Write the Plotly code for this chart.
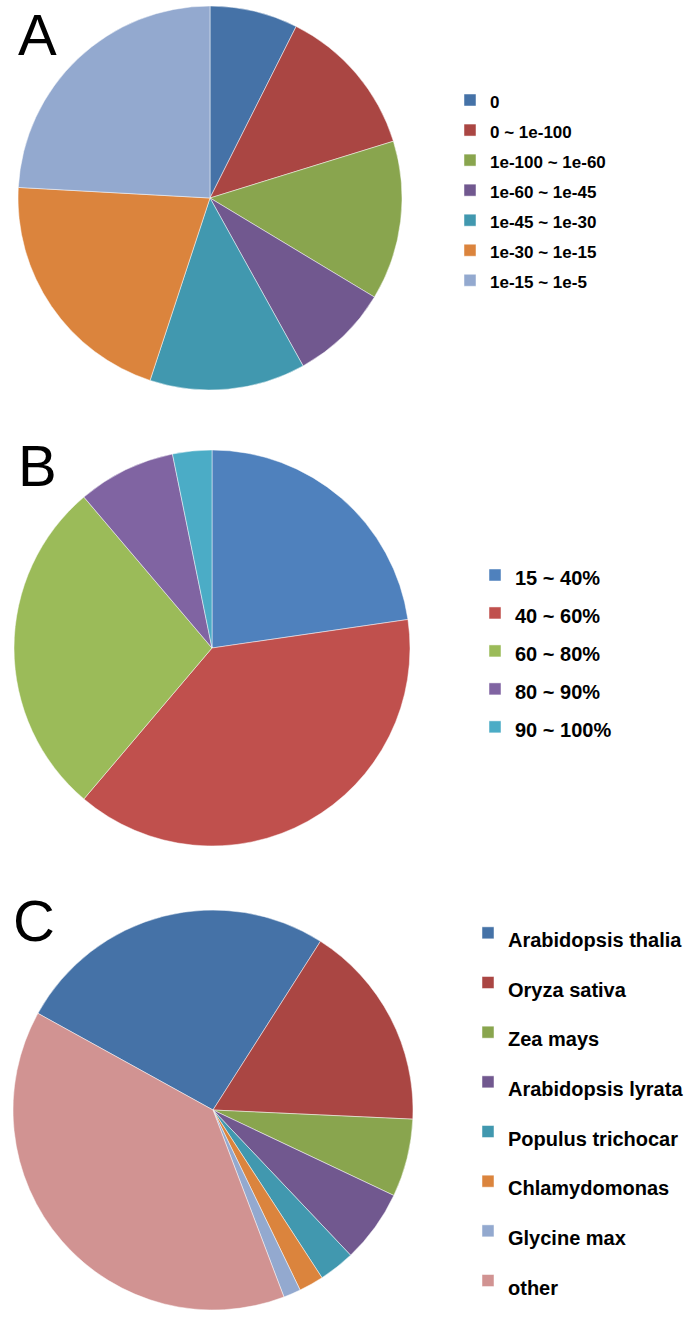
import plotly.graph_objects as go

W, H = 686, 1317

# Panel A - e-value ranges
evalue_labels = ['0', '0 ~ 1e-100', '1e-100 ~ 1e-60', '1e-60 ~ 1e-45',
                 '1e-45 ~ 1e-30', '1e-30 ~ 1e-15', '1e-15 ~ 1e-5']
evalue_share = [7.4, 12.8, 13.4, 8.3, 13.1, 20.8, 24.1]

# Panel B - identity ranges
identity_labels = ['15 ~ 40%', '40 ~ 60%', '60 ~ 80%', '80 ~ 90%', '90 ~ 100%']
identity_share = [22.7, 38.5, 27.6, 8.0, 3.2]

# Panel C - species of best hit
species_labels = ['Arabidopsis thalia', 'Oryza sativa', 'Zea mays', 'Arabidopsis lyrata',
                  'Populus trichocar', 'Chlamydomonas', 'Glycine max', 'other']
species_share = [26.0, 16.7, 6.3, 5.9, 2.9, 2.0, 1.4, 38.8]

# Excel-like palettes
EXCEL_2003 = ['#4572A7', '#AA4643', '#89A54E', '#71588F', '#4198AF', '#DB843D', '#93A9CF', '#D19392']
EXCEL_2007 = ['#4F81BD', '#C0504D', '#9BBB59', '#8064A2', '#4BACC6']

FONT = 'Liberation Sans, Arial, sans-serif'


def px_domain(cx, cy, r):
    # pie domain (paper coords) for a circle centred at (cx, cy) px with radius r
    return {'x': [(cx - r) / W, (cx + r) / W],
            'y': [1 - (cy + r) / H, 1 - (cy - r) / H]}


def sized(labels, size):
    return ['<span style="font-size:%dpx">%s</span>' % (size, s) for s in labels]


def make_pie(labels, values, colors, dom, legend, text_size, rotation=0):
    return go.Pie(
        labels=sized(labels, text_size),
        values=values,
        sort=False,
        direction='clockwise',
        rotation=rotation,
        domain=dom,
        marker={'colors': colors, 'line': {'color': 'rgba(255,255,255,0.6)', 'width': 0.8}},
        textinfo='none',
        hoverinfo='label+percent',
        legend=legend,
    )


fig = go.Figure()
fig.add_trace(make_pie(evalue_labels, evalue_share, EXCEL_2003[:7],
                       px_domain(210, 198, 192), 'legend', 17))
fig.add_trace(make_pie(identity_labels, identity_share, EXCEL_2007,
                       px_domain(212, 648, 198), 'legend2', 20))
fig.add_trace(make_pie(species_labels, species_share, EXCEL_2003,
                       px_domain(213, 1110, 200), 'legend3', 20, rotation=-61.1))


def legend_cfg(left, top, size):
    return dict(
        x=left / W, y=1 - top / H, xanchor='left', yanchor='top',
        font={'family': FONT, 'size': size, 'color': '#000000', 'weight': 'bold'},
        bgcolor='rgba(0,0,0,0)', borderwidth=0, itemwidth=30,
    )


panel_letters = ['A', 'B', 'C']
# (centre x, top of text box) in px
letter_pos = [(37, 0), (37, 431), (34, 886)]

fig.update_layout(
    width=W, height=H,
    margin={'l': 0, 'r': 0, 't': 0, 'b': 0, 'autoexpand': False},
    paper_bgcolor='#FFFFFF',
    plot_bgcolor='#FFFFFF',
    font={'family': FONT, 'color': '#000000'},
    showlegend=True,
    legend=legend_cfg(450, 80, 20.8),
    legend2=legend_cfg(475, 551, 26.9),
    legend3=legend_cfg(468, 903, 35.9),
    annotations=[
        dict(text=t, x=p[0] / W, y=1 - p[1] / H, xref='paper', yref='paper',
             xanchor='center', yanchor='top', showarrow=False,
             font={'family': FONT, 'size': 58, 'color': '#000000'})
        for t, p in zip(panel_letters, letter_pos)
    ],
)

# drop the default page margin so the figure sits at the window's top-left corner
fig.write_html('out.html', config={'displayModeBar': False},
               post_script="document.body.style.margin='0';")
